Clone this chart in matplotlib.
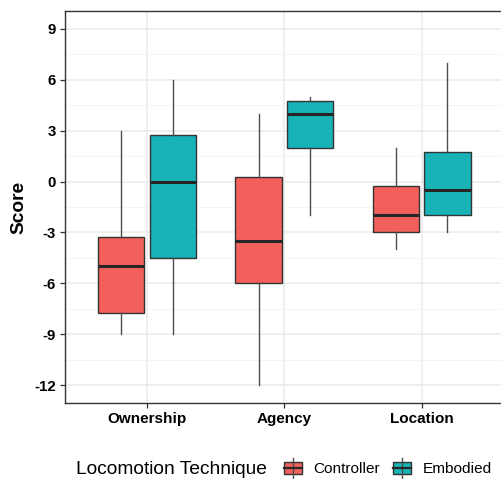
import matplotlib
matplotlib.use("Agg")
import matplotlib.pyplot as plt
from matplotlib.patches import Rectangle
from matplotlib.lines import Line2D
import numpy as np

categories = ["Ownership", "Agency", "Location"]
groups = ["Controller", "Embodied"]
colors = ["#F35F5B", "#18B3B7"]

ctrl_min = [-9, -12, -4]
ctrl_q1 = [-7.75, -6, -3]
ctrl_med = [-5, -3.5, -2]
ctrl_q3 = [-3.25, 0.25, -0.25]
ctrl_max = [3, 4, 2]

emb_min = [-9, -2, -3]
emb_q1 = [-4.5, 2, -2]
emb_med = [0, 4, -0.5]
emb_q3 = [2.75, 4.75, 1.75]
emb_max = [6, 5, 7]

y_ticks = [-12, -9, -6, -3, 0, 3, 6, 9]

plt.rcParams["font.family"] = ["Liberation Sans", "DejaVu Sans"]

W, H = 501, 479
fig = plt.figure(figsize=(W / 100, H / 100), dpi=100)
ax = fig.add_axes([64.7 / W, (H - 403) / H, (504 - 64.7) / W, (403 - 11) / H])

def stats(mins, q1s, meds, q3s, maxs):
    return [dict(whislo=a, q1=b, med=c, q3=d, whishi=e, fliers=[])
            for a, b, c, d, e in zip(mins, q1s, meds, q3s, maxs)]

xpos = np.arange(1, len(categories) + 1)
dodge = 0.1875
bw = 0.3375
for off, st, col in [(-dodge, stats(ctrl_min, ctrl_q1, ctrl_med, ctrl_q3, ctrl_max), colors[0]),
                     (dodge, stats(emb_min, emb_q1, emb_med, emb_q3, emb_max), colors[1])]:
    ax.bxp(st, positions=xpos + off, widths=bw, showcaps=False, showfliers=False,
           patch_artist=True,
           boxprops=dict(facecolor=col, edgecolor="#333333", linewidth=1.0),
           medianprops=dict(color="#262626", linewidth=2.2, solid_capstyle="butt"),
           whiskerprops=dict(color="#4D4D4D", linewidth=1.0),
           manage_ticks=False, zorder=3)

ax.set_xlim(0.4, 3.6)
ax.set_ylim(-13.05, 10.05)
ax.set_yticks(y_ticks)
ax.set_yticklabels([str(v) for v in y_ticks], fontsize=10.8, fontweight="bold", color="black")
ax.set_yticks(np.arange(-10.5, 10.0, 3), minor=True)
ax.set_xticks(xpos)
ax.set_xticklabels(categories, fontsize=11, fontweight="bold", color="black")
ax.tick_params(axis="both", which="major", length=3.5, width=0.9, color="#333333", pad=3)
ax.tick_params(axis="y", which="minor", length=0)
ax.grid(True, which="major", color="#EBEBEB", linewidth=1.1, zorder=0)
ax.grid(True, which="minor", axis="y", color="#F2F2F2", linewidth=0.6, zorder=0)
ax.set_axisbelow(True)
for s in ax.spines.values():
    s.set_color("#333333")
    s.set_linewidth(1.0)
ax.spines["right"].set_visible(False)
ax.set_ylabel("Score", fontsize=13.8, fontweight="bold", labelpad=4.5)

# legend
def fx(px):
    return px / W
def fy(py):
    return (H - py) / H

fig.text(fx(76.5), fy(469), "Locomotion Technique", fontsize=13.8, va="center", ha="left")
key_x = [283, 392]
text_x = [313.3, 423]
for kx, tx, col, lab in zip(key_x, text_x, colors, groups):
    cx = kx + 10
    fig.add_artist(Line2D([fx(cx), fx(cx)], [fy(458), fy(477.5)], color="#4D4D4D", linewidth=1.0,
                          transform=fig.transFigure))
    fig.add_artist(Rectangle((fx(kx + 1), fy(473.5)), (18) / W, (11.5) / H, facecolor=col,
                             edgecolor="#333333", linewidth=1.0, transform=fig.transFigure))
    fig.add_artist(Line2D([fx(kx + 1), fx(kx + 19)], [fy(467.7), fy(467.7)], color="#262626",
                          linewidth=1.6, transform=fig.transFigure))
    fig.text(fx(tx), fy(469), lab, fontsize=11.1, va="center", ha="left")

fig.savefig("out.png", dpi=100)
